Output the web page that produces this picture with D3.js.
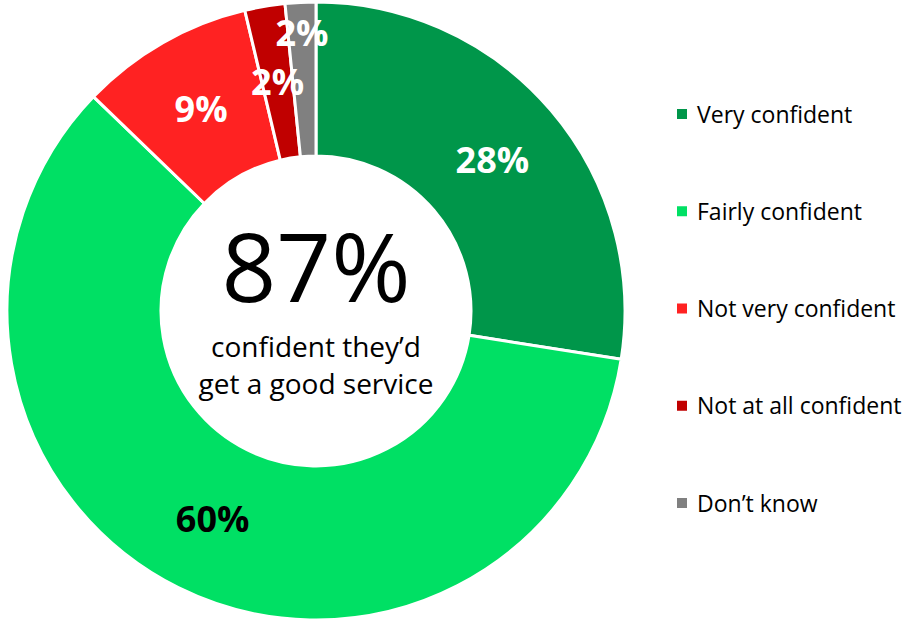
<!DOCTYPE html>
<html><head><meta charset="utf-8">
<script src="https://cdn.jsdelivr.net/npm/d3@7"></script>
<style>body{margin:0;background:#fff}svg{display:block}text{font-family:"Open Sans",Lato,sans-serif}</style>
</head><body><svg id="c" width="914" height="623"></svg>
<script>
const categories = ["Very confident","Fairly confident","Not very confident","Not at all confident","Don\u2019t know"];
const values = [27.5, 59.7, 9.1, 2.1, 1.6];
const labels = ["28%","60%","9%","2%","2%"];
const colors = ["#00964A","#00E064","#FF2222","#C00000","#808080"];
const labelColors = ["#fff","#000","#fff","#fff","#fff"];
const headline = "87%";
const subLines = ["confident they\u2019d","get a good service"];

const svg = d3.select("#c");
const cx = 316, cy = 311, R = 309, r = 155;
const g = svg.append("g").attr("transform",`translate(${cx},${cy})`);
const pie = d3.pie().sort(null).value(d=>d)(values);
const arc = d3.arc().innerRadius(r).outerRadius(R);
g.selectAll("path.s").data(pie).join("path").attr("class","s")
  .attr("d",arc).attr("fill",(d,i)=>colors[i]).attr("stroke","#fff").attr("stroke-width",3);

g.selectAll("text.l").data(pie).join("text").attr("class","l")
  .attr("transform",(d,i)=>{
    const mid=(d.startAngle+d.endAngle)/2;
    const rr = i===pie.length-1 ? 278 : (r+R)/2;
    return `translate(${Math.sin(mid)*rr},${-Math.cos(mid)*rr})`;
  })
  .attr("text-anchor","middle").attr("dy","0.36em")
  .attr("font-size",36).attr("font-weight","bold")
  .attr("fill",(d,i)=>labelColors[i]).text((d,i)=>labels[i]);

g.append("text").attr("text-anchor","middle").attr("y",-9).attr("font-size",96).attr("fill","#000").text(headline);
g.append("text").attr("text-anchor","middle").attr("y",46).attr("font-size",28).attr("fill","#000").text(subLines[0]);
g.append("text").attr("text-anchor","middle").attr("y",83).attr("font-size",28).attr("fill","#000").text(subLines[1]);

const ly = d3.scalePoint().domain(categories).range([114,503]);
const lg = svg.append("g").selectAll("g").data(categories).join("g")
  .attr("transform",d=>`translate(677,${ly(d)})`);
lg.append("rect").attr("x",0).attr("y",-5).attr("width",10).attr("height",10).attr("fill",(d,i)=>colors[i]);
lg.append("text").attr("x",20).attr("y",8.5).attr("font-size",23).attr("fill","#000").text(d=>d);
</script></body></html>
